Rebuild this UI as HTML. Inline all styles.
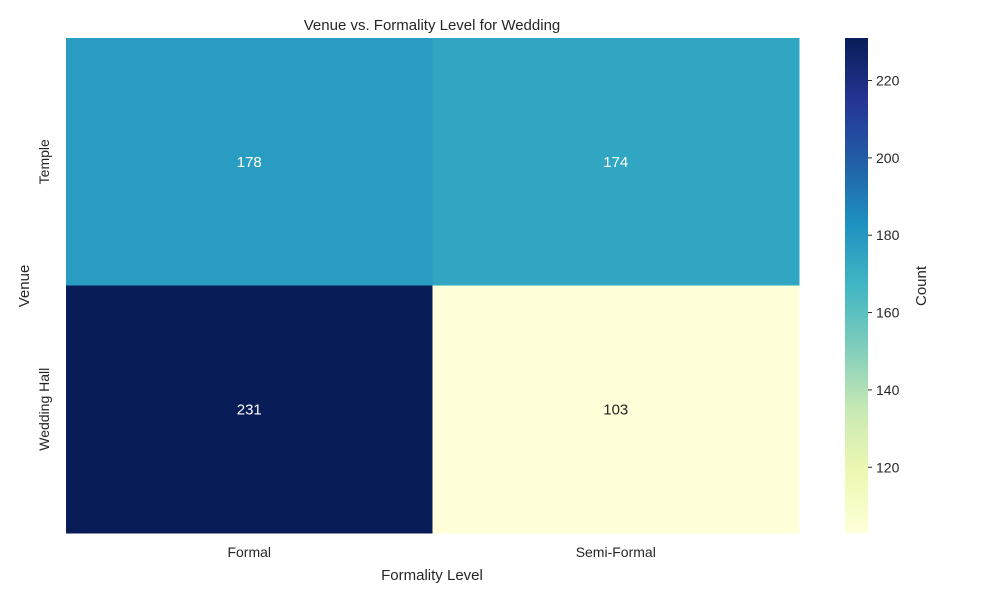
<!DOCTYPE html>
<html><head><meta charset="utf-8"><style>
body{margin:0;background:#fff;font-family:"Liberation Sans",sans-serif;}
svg text{font-family:"Liberation Sans",sans-serif;fill:#262626;}
</style></head><body>
<svg id="chart" width="1000" height="600" viewBox="0 0 1000 600">
<defs><linearGradient id="cbg" x1="0" y1="1" x2="0" y2="0"></linearGradient></defs>
<text x="432" y="30" text-anchor="middle" font-size="15">Venue vs. Formality Level for Wedding</text>
<g id="cells"></g>
<g id="axes"></g>
<text x="432" y="580" text-anchor="middle" font-size="15">Formality Level</text>
<text transform="translate(29,286) rotate(-90)" text-anchor="middle" font-size="15">Venue</text>
<rect x="845" y="38" width="23" height="495" fill="url(#cbg)"/>
<g id="cbticks"></g>
<text transform="translate(926,286) rotate(-90)" text-anchor="middle" font-size="15">Count</text>
</svg>
<script>
const xCategories=["Formal","Semi-Formal"];
const yCategories=["Temple","Wedding Hall"];
const values=[[178,174],[231,103]];
const cbTicks=[120,140,160,180,200,220];
const stops=["#ffffd9","#edf8b1","#c7e9b4","#7fcdbb","#41b6c4","#1d91c0","#225ea8","#253494","#081d58"];
const NS="http://www.w3.org/2000/svg";
const flat=values.flat(),vmin=Math.min(...flat),vmax=Math.max(...flat);
const X0=66,X1=799,Y0=38,Y1=533;
const cw=(X1-X0)/xCategories.length,ch=(Y1-Y0)/yCategories.length;
function hex(h){return [1,3,5].map(i=>parseInt(h.substr(i,2),16));}
function color(v){let t=Math.max(0,Math.min(1,(v-vmin)/(vmax-vmin)))*(stops.length-1);let i=Math.min(Math.floor(t),stops.length-2),f=t-i;const a=hex(stops[i]),b=hex(stops[i+1]);return "rgb("+a.map((c,k)=>Math.round(c+(b[k]-c)*f)).join(",")+")";}
function lum(v){const m=color(v).match(/\d+/g).map(Number);return 0.299*m[0]+0.587*m[1]+0.114*m[2];}
function el(tag,attrs,parent){const e=document.createElementNS(NS,tag);for(const k in attrs)e.setAttribute(k,attrs[k]);parent.appendChild(e);return e;}
const cells=document.getElementById("cells"),axes=document.getElementById("axes");
yCategories.forEach((yc,r)=>{xCategories.forEach((xc,c)=>{const v=values[r][c];
const rect=el("rect",{x:X0+c*cw,y:Y0+r*ch,width:cw+0.5,height:ch+0.5,fill:color(v)},cells);


const t=el("text",{x:X0+(c+.5)*cw,y:Y0+(r+.5)*ch+5,"text-anchor":"middle","font-size":"15"},cells);
t.style.fill=lum(v)>150?"#262626":"#ffffff";t.textContent=v;

});});
xCategories.forEach((xc,c)=>{const t=el("text",{x:X0+(c+.5)*cw,y:557,"text-anchor":"middle","font-size":"14"},axes);t.textContent=xc;

});
yCategories.forEach((yc,r)=>{const y=Y0+(r+.5)*ch;const t=el("text",{transform:"translate(49,"+y+") rotate(-90)","text-anchor":"middle","font-size":"14"},axes);t.textContent=yc;

});
const g=document.getElementById("cbg");
stops.forEach((s,i)=>el("stop",{offset:(i/(stops.length-1)),"stop-color":s},g));
const cbt=document.getElementById("cbticks");
cbTicks.forEach(v=>{const y=Y1-(v-vmin)/(vmax-vmin)*(Y1-Y0);
el("line",{x1:868,x2:872,y1:y,y2:y,stroke:"#262626","stroke-width":1},cbt);
const t=el("text",{x:876,y:y+5,"font-size":"14"},cbt);t.textContent=v;

});
</script>
</body></html>
